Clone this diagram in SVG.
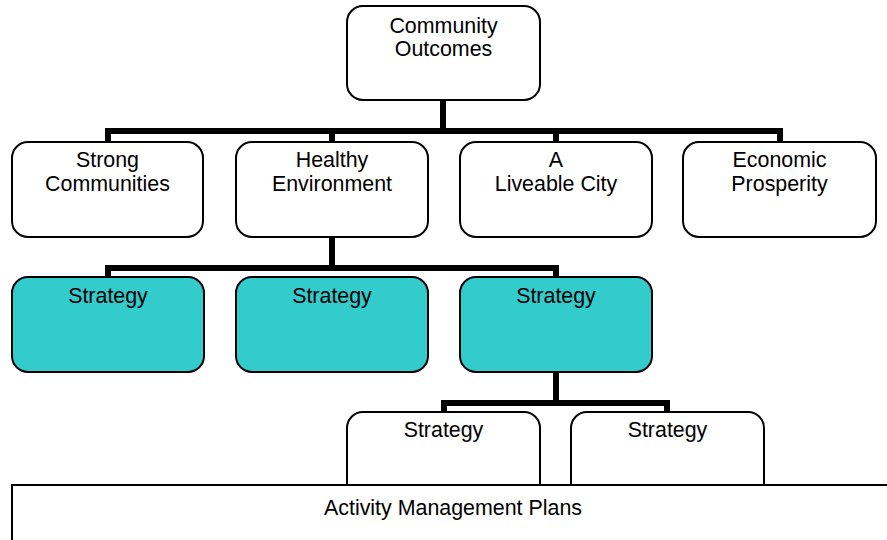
<svg xmlns="http://www.w3.org/2000/svg" width="887" height="540" viewBox="0 0 887 540">
<style>
.box{fill:#fff;stroke:#000;stroke-width:2}
.teal{fill:#33CCCC;stroke:#000;stroke-width:2}
.t{font-family:"Liberation Sans",Arial,sans-serif;font-size:21.4px;fill:#000;text-anchor:middle}
.c{fill:none;stroke:#000;stroke-width:6}
</style>
<rect width="887" height="540" fill="#fff"/>
<g id="connectors">
<path class="c" d="M443 100V131M108 131H780M108 128V142M332 131V142M556 131V142M780 128V142"/>
<path class="c" d="M332 237V268M108 268H556M108 265V277M556 265V277"/>
<path class="c" d="M556 372V403M444 403H667M444 400V412M667 400V412"/>
</g>
<g id="community-outcomes"><rect class="box" x="347" y="6" width="193" height="94" rx="16"/><text class="t" x="443.5" y="33">Community</text><text class="t" x="443.5" y="56">Outcomes</text></g>
<g id="strong-communities"><rect class="box" x="12" y="142" width="191" height="95" rx="16"/><text class="t" x="107.5" y="167">Strong</text><text class="t" x="107.5" y="191">Communities</text></g>
<g id="healthy-environment"><rect class="box" x="236" y="142" width="192" height="95" rx="16"/><text class="t" x="332" y="167">Healthy</text><text class="t" x="332" y="191">Environment</text></g>
<g id="liveable-city"><rect class="box" x="460" y="142" width="192" height="95" rx="16"/><text class="t" x="556" y="167">A</text><text class="t" x="556" y="191">Liveable City</text></g>
<g id="economic-prosperity"><rect class="box" x="683" y="142" width="193" height="95" rx="16"/><text class="t" x="779.5" y="167">Economic</text><text class="t" x="779.5" y="191">Prosperity</text></g>
<g id="strategy-1"><rect class="teal" x="12" y="277" width="192" height="95" rx="16"/><text class="t" x="108" y="303">Strategy</text></g>
<g id="strategy-2"><rect class="teal" x="236" y="277" width="192" height="95" rx="16"/><text class="t" x="332" y="303">Strategy</text></g>
<g id="strategy-3"><rect class="teal" x="460" y="277" width="192" height="95" rx="16"/><text class="t" x="556" y="303">Strategy</text></g>
<g id="strategy-4"><rect class="box" x="347" y="412" width="193" height="95" rx="16"/><text class="t" x="443.5" y="437">Strategy</text></g>
<g id="strategy-5"><rect class="box" x="571" y="412" width="193" height="95" rx="16"/><text class="t" x="667.5" y="437">Strategy</text></g>
<g id="activity-management-plans"><rect class="box" x="12" y="485" width="884" height="70"/><text class="t" x="453" y="515">Activity Management Plans</text></g>
</svg>
